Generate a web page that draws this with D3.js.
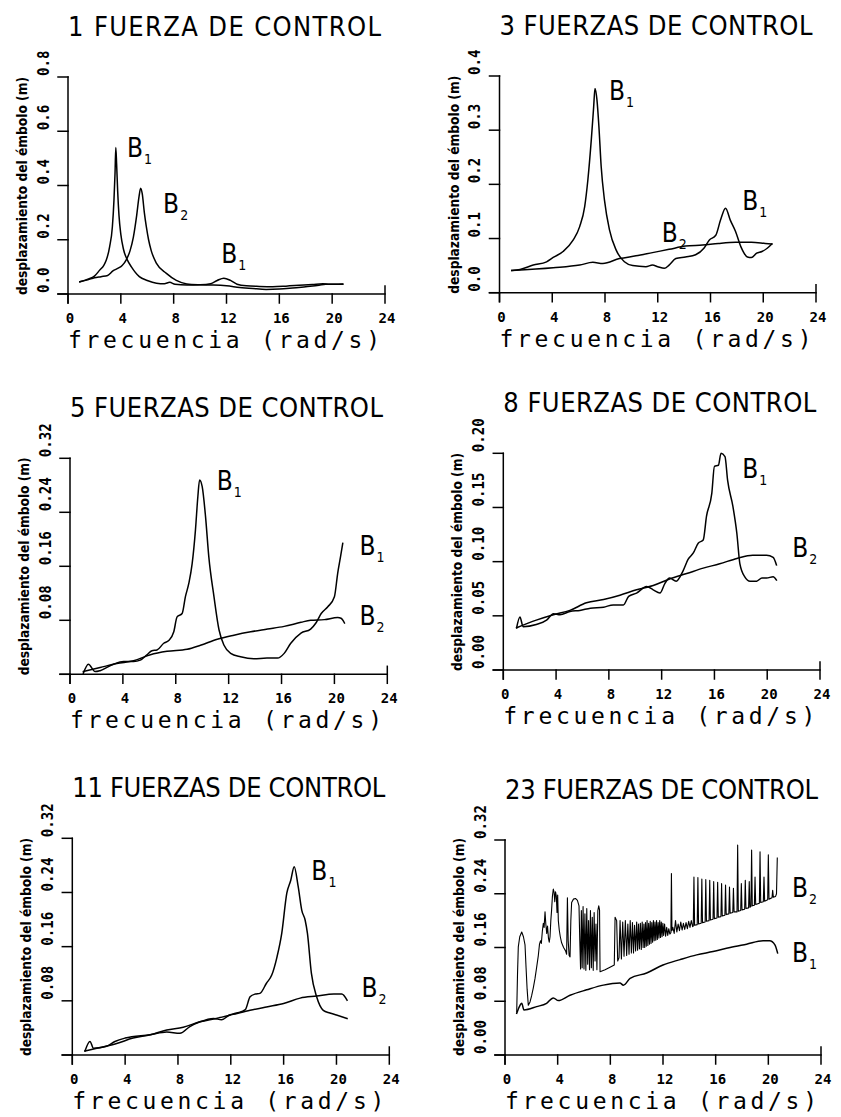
<!DOCTYPE html>
<html lang="es">
<head>
<meta charset="UTF-8">
<script src="https://cdn.jsdelivr.net/npm/d3@7"></script>
<title>Desplazamiento del émbolo</title>
<style>
  body { margin: 0; background: #fff; }
  svg { display: block; }
  .ttl { font-family: "Liberation Sans Narrow", "DejaVu Sans Condensed", sans-serif; font-size: 27px; }
  .xt { font-family: "DejaVu Sans Mono", monospace; font-weight: bold; font-size: 14px; }
  .yt { font-family: "DejaVu Sans Mono", monospace; font-weight: bold; font-size: 16px; }
  .xl { font-family: "DejaVu Sans Mono", monospace; font-size: 23px; }
  .yl { font-family: "DejaVu Sans Condensed", "Liberation Sans Narrow", sans-serif; font-weight: bold; font-size: 14px; }
  .bl { font-family: "Liberation Sans Narrow", "DejaVu Sans Condensed", sans-serif; font-size: 26px; }
  .bs { font-size: 14px; }
</style>
</head>
<body>
<script>
// --- data (x in rad/s, y in m) ---
const titles = ["1 FUERZA DE CONTROL", "3 FUERZAS DE CONTROL", "5 FUERZAS DE CONTROL",
  "8 FUERZAS DE CONTROL", "11 FUERZAS DE CONTROL", "23 FUERZAS DE CONTROL"];
const xTicks = [0, 4, 8, 12, 16, 20, 24];
const xTitle = "frecuencia (rad/s)";
const yTitle = "desplazamiento del émbolo (m)";

const p1YTicks = [0, 0.2, 0.4, 0.6, 0.8];
const p2YTicks = [0, 0.1, 0.2, 0.3, 0.4];
const p3YTicks = [0, 0.08, 0.16, 0.24, 0.32];
const p4YTicks = [0, 0.05, 0.10, 0.15, 0.20];
const p5YTicks = [0, 0.08, 0.16, 0.24, 0.32];
const p6YTicks = [0, 0.08, 0.16, 0.24, 0.32];

const p1YLabels = ["0.0", "0.2", "0.4", "0.6", "0.8"];
const p2YLabels = ["0.0", "0.1", "0.2", "0.3", "0.4"];
const p3YLabels = ["", "0.08", "0.16", "0.24", "0.32"];
const p4YLabels = ["0.00", "0.05", "0.10", "0.15", "0.20"];
const p5YLabels = ["", "0.08", "0.16", "0.24", "0.32"];
const p6YLabels = ["0.00", "0.08", "0.16", "0.24", "0.32"];

const p1B1 = [[0.9,0.045],[1.5,0.055],[2.0,0.066],[2.4,0.088],[2.7,0.105],[2.9,0.125],[3.15,0.174],[3.36,0.248],
  [3.48,0.346],[3.56,0.444],[3.62,0.54],[3.68,0.48],[3.76,0.38],[3.86,0.29],[4.0,0.22],[4.2,0.165],[4.5,0.125],
  [4.8,0.1],[5.4,0.064],[6.0,0.05],[6.7,0.04],[7.3,0.038],[7.7,0.043],[8.1,0.036],[9.0,0.033],[10.0,0.034],
  [10.8,0.038],[11.3,0.05],[11.8,0.058],[12.3,0.05],[12.8,0.036],[13.5,0.03],[14.5,0.028],[15.5,0.027],
  [16.5,0.029],[17.5,0.032],[18.5,0.035],[19.3,0.038],[19.8,0.036],[20.8,0.036]];
const p1B2 = [[0.9,0.045],[1.5,0.052],[2.0,0.06],[2.5,0.064],[3.0,0.068],[3.4,0.085],[3.8,0.095],[4.1,0.105],
  [4.4,0.125],[4.7,0.16],[4.95,0.21],[5.2,0.29],[5.38,0.36],[5.5,0.39],[5.62,0.37],[5.78,0.3],[5.93,0.248],
  [6.1,0.2],[6.3,0.16],[6.7,0.113],[7.45,0.076],[8.2,0.05],[9.0,0.037],[10.0,0.034],[11.0,0.033],[12.0,0.03],
  [13.0,0.024],[14.0,0.02],[15.0,0.017],[16.0,0.018],[17.0,0.022],[18.0,0.027],[19.0,0.032],[19.5,0.036],
  [20.2,0.036],[20.8,0.037]];

const p2B1 = [[0.93,0.041],[1.56,0.043],[2.56,0.051],[3.57,0.057],[4.07,0.065],[4.82,0.076],[5.58,0.097],
  [6.08,0.122],[6.46,0.159],[6.7,0.208],[6.96,0.282],[7.14,0.343],[7.24,0.377],[7.39,0.356],[7.54,0.306],
  [7.71,0.233],[7.96,0.171],[8.34,0.116],[8.84,0.079],[9.47,0.057],[10.1,0.05],[11.1,0.048],[11.6,0.051],
  [12.0,0.048],[12.5,0.045],[12.86,0.051],[13.37,0.063],[14.1,0.066],[14.87,0.07],[15.5,0.082],[15.9,0.097],
  [16.4,0.106],[16.76,0.134],[17.14,0.156],[17.5,0.134],[17.9,0.113],[18.3,0.085],[18.8,0.066],[19.1,0.065],
  [19.5,0.073],[19.9,0.076],[20.3,0.082],[20.65,0.09]];
const p2B2 = [[0.93,0.041],[4.07,0.046],[6.08,0.051],[7.08,0.056],[7.84,0.054],[9.1,0.063],[10.35,0.068],
  [11.6,0.074],[12.86,0.08],[14.1,0.086],[15.4,0.088],[16.6,0.091],[17.9,0.093],[19.1,0.093],[20.15,0.091],
  [20.65,0.09]];

const p3B1 = [[1.01,0.0015],[1.39,0.015],[1.9,0.004],[2.28,0.0054],[3.29,0.015],[4.05,0.019],[4.81,0.019],
  [5.32,0.021],[5.82,0.029],[6.2,0.035],[6.58,0.036],[7.09,0.046],[7.47,0.05],[7.85,0.063],[8.1,0.085],
  [8.48,0.09],[8.73,0.115],[8.99,0.135],[9.24,0.164],[9.49,0.214],[9.67,0.263],[9.8,0.288],[10.0,0.278],
  [10.25,0.234],[10.5,0.174],[10.89,0.115],[11.27,0.066],[11.65,0.043],[12.15,0.031],[12.9,0.026],
  [13.9,0.023],[14.9,0.024],[15.7,0.024],[16.2,0.031],[16.7,0.046],[17.47,0.061],[18.2,0.067],[18.6,0.076],
  [19.0,0.09],[19.5,0.1],[20.0,0.115],[20.25,0.15],[20.46,0.174],[20.63,0.194]];
const p3B2 = [[1.01,0.004],[2.28,0.01],[3.54,0.016],[4.81,0.02],[6.08,0.029],[7.34,0.034],[8.86,0.037],
  [9.87,0.043],[11.14,0.052],[12.4,0.058],[13.67,0.063],[14.94,0.067],[16.2,0.071],[17.47,0.077],[18.2,0.08],
  [19.24,0.081],[20.25,0.084],[20.5,0.083],[20.76,0.076]];

const p4B1 = [[1.01,0.039],[1.26,0.049],[1.5,0.04],[2.5,0.042],[3.28,0.046],[3.8,0.052],[4.3,0.051],[5.05,0.054],
  [5.8,0.055],[6.6,0.057],[7.6,0.058],[8.33,0.06],[9.1,0.06],[9.5,0.068],[10.1,0.071],[10.86,0.077],
  [11.36,0.074],[11.87,0.071],[12.25,0.08],[12.6,0.085],[13.1,0.082],[13.64,0.092],[14.0,0.102],[14.4,0.108],
  [14.77,0.117],[15.15,0.12],[15.4,0.142],[15.8,0.163],[16.0,0.188],[16.3,0.189],[16.5,0.2],[16.8,0.197],
  [17.0,0.175],[17.4,0.151],[17.7,0.126],[17.93,0.098],[18.3,0.086],[18.7,0.082],[19.2,0.082],[19.6,0.085],
  [19.95,0.085],[20.45,0.086],[20.7,0.083]];
const p4B2 = [[1.01,0.039],[2.5,0.046],[3.8,0.051],[5.05,0.055],[6.3,0.062],[7.6,0.065],[8.84,0.069],
  [10.1,0.074],[11.36,0.078],[12.6,0.084],[13.9,0.089],[15.15,0.094],[16.4,0.098],[17.7,0.103],[18.9,0.106],
  [19.95,0.106],[20.45,0.104],[20.7,0.097]];

const p5B1 = [[0.96,0.006],[1.34,0.02],[1.6,0.01],[2.6,0.013],[3.23,0.02],[4.0,0.025],[5.9,0.03],[7.15,0.034],
  [8.15,0.032],[8.9,0.042],[9.67,0.049],[10.7,0.054],[11.3,0.052],[11.9,0.059],[12.45,0.062],[13.1,0.067],
  [13.46,0.086],[13.84,0.09],[14.2,0.091],[14.7,0.106],[15.1,0.118],[15.5,0.145],[15.86,0.18],[16.24,0.239],
  [16.54,0.258],[16.8,0.278],[17.1,0.249],[17.37,0.214],[17.63,0.199],[17.8,0.18],[18.1,0.121],[18.5,0.086],
  [19.0,0.066],[19.5,0.062],[20.0,0.059],[20.8,0.054]];
const p5B2 = [[0.96,0.006],[2.1,0.011],[3.36,0.017],[4.6,0.025],[5.9,0.03],[7.15,0.037],[8.4,0.041],
  [9.67,0.049],[10.9,0.054],[12.2,0.06],[13.46,0.066],[14.7,0.071],[16.0,0.076],[17.25,0.084],[18.5,0.087],
  [19.8,0.09],[20.4,0.09],[20.8,0.081]];

const p6B1 = [[0.89,0.062],[1.14,0.074],[1.27,0.077],[1.44,0.067],[2.4,0.072],[3.16,0.077],[3.67,0.085],
  [4.05,0.081],[4.94,0.089],[6.2,0.097],[7.47,0.104],[8.73,0.107],[8.99,0.104],[9.5,0.114],[10.76,0.122],
  [12.0,0.134],[13.3,0.142],[14.56,0.149],[15.8,0.154],[17.1,0.16],[18.35,0.165],[19.6,0.17],[20.1,0.17],
  [20.5,0.164],[20.7,0.152]];
const p6B2 = [[0.89,0.064],[0.95,0.12],[1.01,0.161],[1.12,0.176],[1.27,0.183],[1.4,0.176],[1.52,0.164],
  [1.6,0.13],[1.68,0.098],[1.77,0.074],[1.9,0.079],[2.02,0.088],[2.15,0.1],[2.28,0.114],[2.4,0.13],
  [2.53,0.148],[2.62,0.165],[2.7,0.17],[2.76,0.166],[2.84,0.185],[2.91,0.196],[2.97,0.19],[3.04,0.213],
  [3.1,0.195],[3.17,0.181],[3.23,0.192],[3.3,0.174],[3.36,0.168],[3.42,0.176],[3.48,0.2],[3.54,0.216],
  [3.6,0.236],[3.67,0.247],[3.73,0.242],[3.78,0.228],[3.84,0.243],[3.9,0.236],[3.95,0.212],[4.0,0.238],
  [4.05,0.2],[4.12,0.186],[4.2,0.176],[4.3,0.167],[4.45,0.16],[4.6,0.155],[4.68,0.15],[4.74,0.234],
  [4.8,0.17],[4.87,0.148],[4.94,0.146],[5.0,0.2],[5.06,0.227],[5.2,0.232],[5.35,0.233],[5.5,0.23],
  [5.62,0.222],[5.68,0.17],[5.74,0.128],[5.8,0.215],[5.86,0.13],[5.93,0.221],[6.0,0.128],[6.07,0.21],
  [6.14,0.126],[6.21,0.218],[6.28,0.135],[6.35,0.2],[6.42,0.127],[6.49,0.215],[6.56,0.13],[6.63,0.205],
  [6.7,0.126],[6.77,0.212],[6.84,0.14],[6.91,0.195],[6.98,0.127],[7.05,0.215],[7.12,0.222],[7.18,0.216],
  [7.22,0.124],[7.6,0.127],[7.9,0.13],[8.3,0.134],[8.36,0.205],[8.48,0.2],[8.56,0.14],[8.66,0.145],
  [8.74,0.2],[8.84,0.143],[8.94,0.198],[9.04,0.147],[9.14,0.2],[9.24,0.148],[9.33,0.195],[9.42,0.15],
  [9.51,0.2],[9.6,0.152],[9.68,0.197],[9.76,0.152],[9.84,0.193],[9.92,0.155],[10.0,0.198],[10.07,0.156],
  [10.14,0.195],[10.21,0.158],[10.28,0.196],[10.35,0.157],[10.42,0.198],[10.49,0.16],[10.55,0.195],
  [10.61,0.16],[10.67,0.197],[10.73,0.162],[10.79,0.2],[10.85,0.163],[10.91,0.196],[10.97,0.165],
  [11.03,0.199],[11.09,0.166],[11.15,0.197],[11.21,0.168],[11.27,0.2],[11.33,0.17],[11.39,0.198],
  [11.45,0.171],[11.51,0.2],[11.57,0.172],[11.63,0.197],[11.69,0.174],[11.75,0.2],[11.81,0.175],
  [11.87,0.198],[11.93,0.176],[11.99,0.196],[12.05,0.178],[12.12,0.195],[12.2,0.177],[12.28,0.19],
  [12.36,0.178],[12.44,0.188],[12.52,0.18],[12.6,0.182],[12.64,0.27],[12.68,0.185],[12.75,0.19],
  [12.85,0.181],[12.95,0.2],[13.05,0.183],[13.15,0.195],[13.25,0.185],[13.35,0.198],[13.45,0.186],
  [13.55,0.196],[13.65,0.187],[13.75,0.197],[13.85,0.188],[13.95,0.199],[14.05,0.19],[14.15,0.2],
  [14.25,0.191],[14.3,0.192],[14.35,0.265],[14.4,0.193],[14.6,0.194],[14.65,0.264],[14.7,0.195],
  [14.9,0.196],[14.95,0.262],[15.0,0.197],[15.2,0.198],[15.25,0.261],[15.3,0.199],[15.5,0.2],[15.55,0.26],
  [15.6,0.201],[15.8,0.202],[15.85,0.258],[15.9,0.203],[16.1,0.204],[16.15,0.257],[16.2,0.205],
  [16.4,0.206],[16.45,0.255],[16.5,0.207],[16.7,0.208],[16.75,0.253],[16.8,0.209],[17.0,0.21],
  [17.05,0.25],[17.1,0.211],[17.3,0.212],[17.35,0.248],[17.4,0.213],[17.62,0.213],[17.67,0.3125],
  [17.72,0.214],[17.9,0.215],[17.95,0.255],[18.0,0.216],[18.2,0.217],[18.25,0.26],[18.3,0.218],
  [18.5,0.219],[18.55,0.258],[18.6,0.22],[18.68,0.221],[18.73,0.305],[18.78,0.222],[18.94,0.223],
  [18.99,0.265],[19.04,0.224],[19.32,0.226],[19.37,0.3026],[19.42,0.227],[19.62,0.228],[19.67,0.265],
  [19.72,0.229],[19.95,0.231],[20.0,0.298],[20.05,0.232],[20.28,0.234],[20.33,0.245],[20.38,0.235],
  [20.55,0.236],[20.62,0.24],[20.68,0.293]];

// curve labels: [x, y, subscript]
const p1Labels = [[4.47,0.504,"1"],[7.2,0.298,"2"],[11.6,0.114,"1"]];
const p2Labels = [[8.3,0.356,"1"],[18.4,0.153,"1"],[12.3,0.094,"2"]];
const p3Labels = [[11.1,0.273,"1"],[21.9,0.177,"1"],[21.9,0.073,"2"]];
const p4Labels = [[18.1,0.177,"1"],[21.9,0.104,"2"]];
const p5Labels = [[18.1,0.258,"1"],[21.9,0.086,"2"]];
const p6Labels = [[21.8,0.235,"2"],[21.8,0.138,"1"]];

// --- drawing ---
const yTickSets = [p1YTicks, p2YTicks, p3YTicks, p4YTicks, p5YTicks, p6YTicks];
const yLabelSets = [p1YLabels, p2YLabels, p3YLabels, p4YLabels, p5YLabels, p6YLabels];
const seriesSets = [[p1B1, p1B2], [p2B1, p2B2], [p3B1, p3B2], [p4B1, p4B2], [p5B1, p5B2], [p6B1, p6B2]];
const labelSets = [p1Labels, p2Labels, p3Labels, p4Labels, p5Labels, p6Labels];

// plot frames: left, right, bottom, top (pixels)
const frames = [
  [68, 385, 294, 77],
  [499.5, 816, 292.7, 76],
  [70, 387.3, 674.3, 458.3],
  [503.3, 820, 670, 453.3],
  [72.3, 389.3, 1055, 838.3],
  [505, 821, 1055, 840]
];

const svg = d3.select("body").append("svg")
  .attr("width", 841).attr("height", 1117)
  .style("background", "#fff");

frames.forEach((f, i) => {
  const [x0, x1, y0, y1] = f;
  const ticks = yTickSets[i];
  const x = d3.scaleLinear().domain([0, 24]).range([x0, x1]);
  const y = d3.scaleLinear().domain([0, ticks[ticks.length - 1]]).range([y0, y1]);
  const g = svg.append("g").attr("stroke-linecap", "square");

  // axes
  g.append("line").attr("x1", x0 - 10).attr("x2", x1).attr("y1", y0).attr("y2", y0)
    .attr("stroke", "#000").attr("stroke-width", 1.5);
  g.append("line").attr("x1", x0).attr("x2", x0).attr("y1", y0 + 9).attr("y2", y1)
    .attr("stroke", "#000").attr("stroke-width", 1.5);
  g.selectAll("line.xtk").data(xTicks).enter().append("line").attr("class", "xtk")
    .attr("x1", d => x(d)).attr("x2", d => x(d))
    .attr("y1", d => d === 24 ? y0 - 8 : y0).attr("y2", y0 + 9)
    .attr("stroke", "#000").attr("stroke-width", 1.5);
  g.selectAll("line.ytk").data(ticks).enter().append("line").attr("class", "ytk")
    .attr("x1", x0 - 10).attr("x2", x0)
    .attr("y1", d => y(d)).attr("y2", d => y(d))
    .attr("stroke", "#000").attr("stroke-width", 1.5);

  // tick labels
  g.selectAll("text.xt").data(xTicks).enter().append("text").attr("class", "xt")
    .attr("x", d => x(d) + 2).attr("y", y0 + 24)
    .attr("text-anchor", "middle").attr("dominant-baseline", "central")
    .text(d => d);
  g.selectAll("text.yt").data(ticks).enter().append("text").attr("class", "yt")
    .attr("transform", d => `translate(${x0 - 25},${y(d) - 1}) rotate(-90)`)
    .attr("text-anchor", "start").attr("dominant-baseline", "central")
    .attr("textLength", (d, j) => yLabelSets[i][j].length * 8.5)
    .attr("lengthAdjust", "spacingAndGlyphs")
    .text((d, j) => yLabelSets[i][j]);

  // axis titles
  g.append("text").attr("class", "yl")
    .attr("transform", `translate(${x0 - 46},${y0 + 1}) rotate(-90)`)
    .attr("dominant-baseline", "central")
    .attr("textLength", 218).attr("lengthAdjust", "spacingAndGlyphs")
    .text(yTitle);
  g.append("text").attr("class", "xl")
    .attr("x", x0).attr("y", y0 + 54)
    .attr("textLength", 312)
    .text(xTitle);
  g.append("text").attr("class", "ttl")
    .attr("x", x0).attr("y", y1 - 41)
    .attr("textLength", 313)
    .text(titles[i]);

  // curves
  seriesSets[i].forEach((s, k) => {
    const dense = i === 5 && k === 1;
    const line = d3.line()
      .x(d => x(d[0])).y(d => y(d[1]))
      .curve(dense ? d3.curveLinear : d3.curveMonotoneX);
    g.append("path").datum(s).attr("d", line)
      .attr("fill", "none").attr("stroke", "#000")
      .attr("stroke-width", dense ? 1.1 : 1.5)
      .attr("stroke-linejoin", "round");
  });

  // B labels
  labelSets[i].forEach(l => {
    const t = g.append("text").attr("class", "bl")
      .attr("x", x(l[0])).attr("y", y(l[1]));
    t.append("tspan").text("B");
    t.append("tspan").attr("class", "bs").attr("dx", 1).attr("dy", 7).text(l[2]);
  });
});
</script>
</body>
</html>
